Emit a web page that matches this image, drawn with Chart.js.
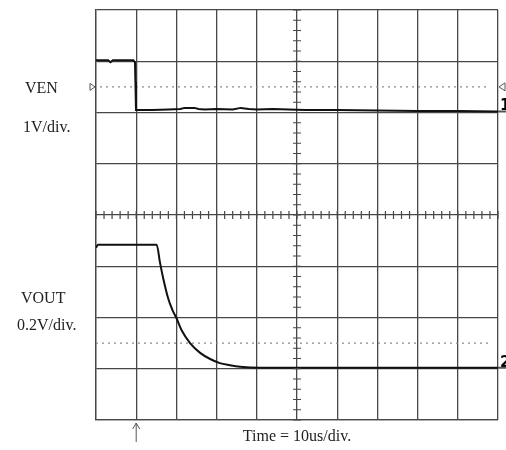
<!DOCTYPE html>
<html>
<head>
<meta charset="utf-8">
<script src="https://cdn.jsdelivr.net/npm/chart.js@4.4.1/dist/chart.umd.min.js"></script>
<style>
  body { margin: 0; background: #fff; }
  canvas { display: block; }
</style>
</head>
<body>
<canvas id="scope" width="506" height="450"></canvas>
<script>
  // time in us (10 us/div), levels in screen divisions (0 = bottom, 8 = top)
  var venTime  = [0, 3, 3.6, 4.2, 9.3, 9.7, 9.8, 9.95, 14, 18, 21, 22, 24.5, 25.5, 27, 30, 34, 36, 38, 40, 44, 48, 52, 60, 70, 80, 90, 100];
  var venLevel = [7.02, 7.02, 6.98, 7.02, 7.02, 6.98, 6.6, 6.05, 6.05, 6.06, 6.07, 6.09, 6.09, 6.07, 6.06, 6.07, 6.06, 6.09, 6.07, 6.06, 6.07, 6.06, 6.05, 6.05, 6.04, 6.03, 6.03, 6.02];

  var voutTime  = [0, 0.5, 5, 10, 15.1, 15.9, 16.7, 18.0, 19.0, 20.0, 21.3, 23.4, 25.9, 28.4, 30.8, 33.3, 35.8, 40.8, 50, 60, 70, 80, 90, 100];
  var voutLevel = [3.36, 3.42, 3.42, 3.42, 3.42, 3.08, 2.77, 2.36, 2.15, 1.99, 1.75, 1.50, 1.31, 1.19, 1.11, 1.07, 1.04, 1.02, 1.02, 1.02, 1.02, 1.02, 1.02, 1.02];

  // channel reference (dotted) levels
  var ch1Ref = 6.5;
  var ch2Ref = 1.5;
  var triggerTime = 10;

  var labels = [
    { text: 'VEN', x: 25, y: 89 },
    { text: '1V/div.', x: 23, y: 128 },
    { text: 'VOUT', x: 21, y: 299 },
    { text: '0.2V/div.', x: 17, y: 326 }
  ];
  var timeLabel = 'Time = 10us/div.';

  function pts(xs, ys) {
    return xs.map(function (x, i) { return { x: x, y: ys[i] }; });
  }

  var gridColor = '#474747';

  // center graticule minor ticks, markers and side text
  var scopeDecor = {
    id: 'scopeDecor',
    afterDatasetsDraw: function (chart) {
      var ctx = chart.ctx;
      var xs = chart.scales.x, ys = chart.scales.y;
      var cx = xs.getPixelForValue(50), cy = ys.getPixelForValue(4);
      ctx.save();
      ctx.strokeStyle = gridColor;
      ctx.lineWidth = 1.2;
      ctx.beginPath();
      for (var v = 0; v <= 8.001; v += 0.2) {
        var py = ys.getPixelForValue(v);
        ctx.moveTo(cx - 4, py); ctx.lineTo(cx + 4, py);
      }
      for (var t = 0; t <= 100.001; t += 2) {
        var px = xs.getPixelForValue(t);
        ctx.moveTo(px, cy - 4); ctx.lineTo(px, cy + 4);
      }
      ctx.stroke();

      // ground / trigger markers
      var y1 = ys.getPixelForValue(ch1Ref);
      ctx.strokeStyle = '#555';
      ctx.lineWidth = 1;
      ctx.beginPath();
      ctx.moveTo(xs.left - 6, y1 - 3.5); ctx.lineTo(xs.left - 1, y1); ctx.lineTo(xs.left - 6, y1 + 3.5); ctx.closePath();
      ctx.moveTo(xs.right + 7, y1 - 4); ctx.lineTo(xs.right + 1, y1); ctx.lineTo(xs.right + 7, y1 + 4); ctx.closePath();
      ctx.stroke();

      // trigger position arrow
      var tx = xs.getPixelForValue(triggerTime);
      ctx.beginPath();
      ctx.moveTo(tx, ys.bottom + 3); ctx.lineTo(tx, ys.bottom + 22);
      ctx.moveTo(tx - 3.5, ys.bottom + 9); ctx.lineTo(tx, ys.bottom + 3); ctx.lineTo(tx + 3.5, ys.bottom + 9);
      ctx.stroke();

      // channel numbers at right edge
      ctx.fillStyle = '#000';
      ctx.font = 'bold 15px "DejaVu Sans"';
      ctx.textAlign = 'left';
      ctx.textBaseline = 'alphabetic';
      var e1 = ys.getPixelForValue(venLevel[venLevel.length - 1]);
      var e2 = ys.getPixelForValue(voutLevel[voutLevel.length - 1]);
      ctx.fillText('1', xs.right + 2, e1 - 1);
      ctx.fillText('2', xs.right + 2, e2 - 1);
      ctx.lineWidth = 2;
      ctx.beginPath();
      ctx.moveTo(xs.right, e1); ctx.lineTo(chart.width, e1);
      ctx.moveTo(xs.right, e2); ctx.lineTo(chart.width, e2);
      ctx.stroke();

      // side labels
      ctx.fillStyle = '#222';
      ctx.font = '16px "Liberation Serif"';
      ctx.textBaseline = 'middle';
      labels.forEach(function (l) { ctx.fillText(l.text, l.x, l.y); });
      ctx.textAlign = 'center';
      ctx.fillText(timeLabel, (xs.left + xs.right) / 2, 437);
      ctx.restore();
    }
  };

  var traceStyle = {
    borderColor: '#111',
    borderWidth: 2,
    pointRadius: 0,
    showLine: true,
    tension: 0
  };
  var refStyle = {
    borderColor: '#8a8a8a',
    borderWidth: 1.2,
    borderDash: [2, 4],
    pointRadius: 0,
    showLine: true
  };

  var config = {
    type: 'scatter',
    data: {
      datasets: [
        Object.assign({ label: 'VEN', data: pts(venTime, venLevel) }, traceStyle),
        Object.assign({ label: 'VOUT', data: pts(voutTime, voutLevel), cubicInterpolationMode: 'monotone' }, traceStyle),
        Object.assign({ label: 'CH1 ref', data: pts([1, 98], [ch1Ref, ch1Ref]) }, refStyle),
        Object.assign({ label: 'CH2 ref', data: pts([0, 98], [ch2Ref, ch2Ref]) }, refStyle)
      ]
    },
    options: {
      responsive: false,
      animation: false,
      layout: { padding: { left: 96, right: 8, top: 10, bottom: 30 } },
      plugins: { legend: { display: false }, tooltip: { enabled: false } },
      scales: {
        x: {
          type: 'linear', min: 0, max: 100,
          ticks: { display: false, stepSize: 10 },
          grid: { color: gridColor, lineWidth: 1.3, drawTicks: false },
          border: { color: gridColor, width: 1.3 },
          afterFit: function (s) { s.height = 0; }
        },
        y: {
          type: 'linear', min: 0, max: 8,
          ticks: { display: false, stepSize: 1 },
          grid: { color: gridColor, lineWidth: 1.3, drawTicks: false },
          border: { color: gridColor, width: 1.3 },
          afterFit: function (s) { s.width = 0; }
        }
      }
    },
    plugins: [scopeDecor]
  };

  new Chart(document.getElementById('scope'), config);
</script>
</body>
</html>
